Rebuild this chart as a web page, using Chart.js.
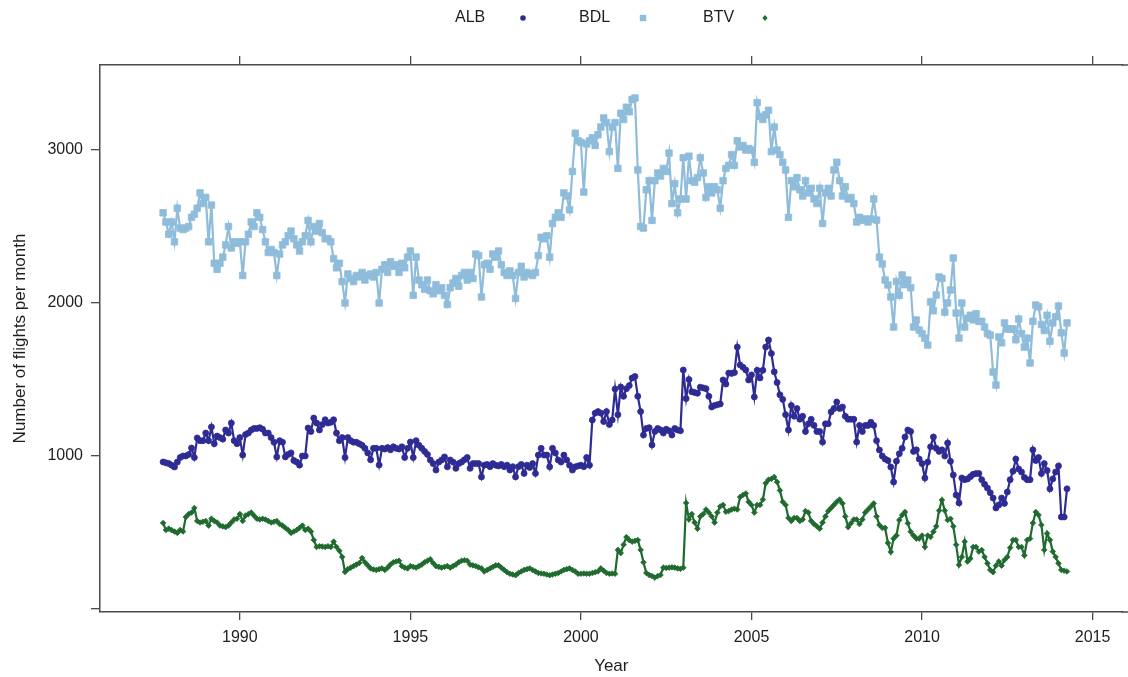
<!DOCTYPE html>
<html>
<head>
<meta charset="utf-8">
<script src="https://cdn.jsdelivr.net/npm/chart.js@4.4.0/dist/chart.umd.min.js"></script>
<style>
  html, body { margin: 0; padding: 0; background: #fff; }
  #wrap { width: 1128px; height: 677px; }
</style>
</head>
<body>
<div id="wrap"><canvas id="chart" width="1128" height="677"></canvas></div>
<script>
// monthly series start in October 1987
const startYear = 1987;
const startMonth = 10;

const seriesNames = ["ALB", "BDL", "BTV"];
const yearTicks = [1990, 1995, 2000, 2005, 2010, 2015];
const flightTicks = [0, 1000, 2000, 3000];

const albFlights = [
  961, 955, 950,                                                      // 1987
  940, 928, 960, 990, 1000, 1000, 1010, 1052, 990, 1118, 1100, 1100,  // 1988
  1150, 1100, 1190, 1080, 1130, 1120, 1110, 1170, 1150, 1215, 1100, 1080,
  1120, 1006, 1140, 1150, 1170, 1180, 1180, 1185, 1175, 1150, 1150, 1120,
  1090, 994, 1100, 1090, 994, 1010, 1020, 970, 960, 940, 1000, 1000,
  1183, 1160, 1248, 1215, 1170, 1205, 1237, 1215, 1220, 1237, 1150, 1100,
  1120, 990, 1120, 1100, 1090, 1090, 1080, 1070, 1050, 1020, 975, 1050,
  1050, 941, 1050, 1045, 1055, 1040, 1060, 1050, 1045, 1060, 990, 1050,
  1091, 990, 1100, 1070, 1050, 1030, 1010, 974, 950, 908, 960, 974,
  994, 929, 974, 960, 919, 950, 960, 975, 990, 919, 950, 950,
  950, 863, 940, 945, 930, 950, 940, 935, 945, 930, 940, 908,
  930, 863, 930, 945, 886, 940, 925, 950, 886, 1006, 1050, 1006,
  1006, 929, 1050, 1020, 974, 960, 1006, 974, 940, 908, 929, 935,
  940, 930, 990, 940, 1235, 1280, 1290, 1280, 1225, 1290, 1205, 1235, // 2000
  1438, 1270, 1451, 1390, 1440, 1460, 1510, 1520, 1390, 1290, 1137, 1180,
  1185, 1072, 1160, 1180, 1170, 1150, 1175, 1165, 1137, 1180, 1170, 1165,
  1562, 1375, 1500, 1420, 1415, 1410, 1450, 1445, 1440, 1390, 1320, 1330,
  1335, 1340, 1497, 1470, 1542, 1540, 1545, 1712, 1595, 1580, 1562, 1497,
  1530, 1386, 1560, 1510, 1560, 1712, 1758, 1670, 1550, 1480, 1400, 1370,
  1270, 1170, 1330, 1260, 1310, 1240, 1260, 1160, 1210, 1240, 1200, 1160,
  1160, 1091, 1210, 1210, 1288, 1310, 1353, 1310, 1320, 1260, 1240, 1240,
  1240, 1091, 1200, 1160, 1200, 1200, 1220, 1200, 1100, 1039, 1000, 980,
  970, 928, 830, 966, 1015, 1050, 1124, 1170, 1160, 1030, 1040, 980,
  950, 856, 960, 1060, 1124, 1050, 1030, 1040, 1000, 1085, 965, 876,  // 2010
  745, 693, 856, 845, 850, 865, 880, 885, 885, 845, 815, 790,
  760, 725, 660, 680, 725, 690, 765, 845, 900, 980, 915, 895,
  860, 845, 845, 1040, 970, 990, 885, 950, 905, 785, 850, 895,
  935, 601, 601, 785                                                  // 2014
];

const bdlFlights = [
  2590, 2530, 2450,                                                   // 1987
  2530, 2400, 2620, 2490, 2480, 2490, 2500, 2560, 2580, 2620, 2720, 2650,
  2690, 2400, 2640, 2260, 2220, 2260, 2300, 2380, 2500, 2360, 2400, 2390,
  2400, 2180, 2400, 2450, 2530, 2500, 2590, 2560, 2480, 2400, 2330, 2350,
  2330, 2180, 2320, 2380, 2400, 2440, 2470, 2420, 2380, 2340, 2400, 2440,
  2540, 2400, 2500, 2470, 2520, 2460, 2420, 2420, 2400, 2290, 2230, 2260,
  2140, 2000, 2190, 2160, 2140, 2180, 2170, 2200, 2150, 2180, 2190, 2170,
  2200, 2000, 2220, 2250, 2200, 2270, 2240, 2250, 2200, 2260, 2230, 2300,
  2340, 2050, 2300, 2150, 2120, 2090, 2150, 2080, 2060, 2120, 2080, 2100,
  2050, 1990, 2100, 2130, 2160, 2110, 2180, 2200, 2150, 2200, 2160, 2320,
  2310, 2040, 2250, 2260, 2220, 2320, 2300, 2340, 2250, 2200, 2180, 2210,
  2180, 2030, 2200, 2240, 2170, 2200, 2190, 2180, 2200, 2310, 2430, 2420,
  2440, 2300, 2520, 2560, 2590, 2560, 2720, 2700, 2610, 2860, 3110, 3060,
  3050, 2725, 3040, 3060, 3080, 3030, 3100, 3150, 3210, 3180, 2990, 3150, // 2000
  3180, 2880, 3240, 3200, 3280, 3250, 3330, 3340, 2870, 2500, 2490, 2740,
  2800, 2540, 2800, 2850, 2830, 2880, 2860, 2980, 2650, 2780, 2590, 2680,
  2950, 2680, 2960, 2800, 2790, 2820, 2950, 2850, 2690, 2760, 2720, 2760,
  2740, 2620, 2800, 2880, 2900, 2970, 2900, 3060, 3020, 3030, 3000, 3010,
  3000, 2920, 3310, 3220, 3200, 3230, 3260, 2990, 3150, 3000, 2970, 2920,
  2870, 2560, 2800, 2760, 2820, 2740, 2700, 2800, 2720, 2750, 2680, 2650,
  2750, 2520, 2720, 2750, 2700, 2870, 2920, 2800, 2700, 2760, 2680, 2690,
  2650, 2530, 2560, 2540, 2550, 2530, 2550, 2680, 2542, 2300, 2255, 2150,
  2118, 2040, 1843, 2140, 2050, 2183, 2120, 2150, 2100, 1843, 1889, 1823,
  1800, 1770, 1725, 2007, 1950, 2052, 2170, 2160, 1940, 2000, 2085, 2294, // 2010
  1935, 1771, 2000, 1843, 1900, 1920, 1890, 1930, 1880, 1880, 1843, 1800,
  1790, 1549, 1464, 1778, 1740, 1870, 1830, 1830, 1830, 1760, 1895, 1800,
  1712, 1770, 1608, 1880, 1987, 1975, 1860, 1820, 1920, 1750, 1870, 1910,
  1980, 1805, 1673, 1870                                              // 2014
];

const btvFlights = [
  562, 516, 525,                                                      // 1987
  515, 506, 497, 516, 506, 601, 620, 630, 660, 575, 565, 570,
  575, 545, 590, 575, 565, 545, 540, 535, 545, 565, 585, 590,
  620, 575, 610, 620, 630, 610, 590, 585, 590, 585, 575, 565,
  570, 575, 555, 545, 530, 516, 497, 506, 516, 530, 545, 516,
  525, 506, 451, 405, 410, 408, 405, 410, 405, 440, 405, 380,
  340, 242, 260, 270, 280, 290, 300, 333, 305, 285, 265, 258,
  255, 260, 265, 255, 270, 290, 305, 310, 315, 280, 270, 265,
  280, 275, 270, 280, 290, 305, 315, 325, 300, 280, 275, 270,
  275, 280, 270, 280, 290, 305, 315, 318, 315, 290, 285, 280,
  272, 265, 245, 255, 265, 275, 285, 285, 270, 255, 240, 230,
  225, 220, 235, 245, 255, 260, 265, 255, 245, 235, 232, 230,
  225, 220, 225, 230, 235, 245, 255, 260, 265, 255, 245, 230,
  230, 232, 230, 230, 235, 240, 245, 265, 250, 235, 230, 232,         // 2000
  230, 386, 365, 420, 470, 450, 440, 445, 450, 386, 305, 235,
  222, 215, 205, 215, 222, 270, 268, 270, 272, 270, 265, 262,
  270, 693, 585, 620, 565, 525, 605, 620, 650, 630, 605, 565,
  630, 670, 680, 635, 640, 650, 655, 650, 732, 745, 755, 700,
  680, 630, 680, 680, 715, 822, 845, 850, 863, 830, 775, 700,
  680, 595, 575, 595, 595, 575, 585, 640, 630, 575, 555, 540,
  525, 565, 605, 640, 660, 680, 700, 715, 690, 605, 535, 560,
  585, 585, 555, 585, 630, 650, 670, 690, 605, 549, 530, 530,
  431, 373, 460, 480, 581, 614, 634, 560, 505, 480, 460, 460,
  480, 405, 480, 470, 505, 540, 643, 712, 643, 581, 590, 540,         // 2010
  420, 288, 340, 440, 310, 330, 405, 405, 375, 385, 340, 298,
  255, 240, 283, 310, 283, 320, 340, 400, 451, 451, 405, 405,
  350, 451, 460, 562, 634, 614, 549, 386, 494, 451, 375, 340,
  298, 255, 250, 245                                                  // 2014
];

// decimal year of each month
const monthTimes = albFlights.map((_, i) => startYear + (startMonth - 1 + i) / 12);

const axisColor = "#4a4a4a";
const textColor = "#1e1e1e";
const fontFamily = '"Liberation Sans", Arial, Helvetica, sans-serif';

const styles = {
  ALB: { color: "#2e2b94", pointStyle: "circle", radius: 3 },
  BDL: { color: "#8ebcda", pointStyle: "rect", radius: 4.6 },
  BTV: { color: "#1f6a2e", pointStyle: "rectRot", radius: 2.8 },
};

function toPoints(values) {
  return values.map((v, i) => ({ x: monthTimes[i], y: v }));
}

function makeDataset(name, values) {
  const s = styles[name];
  return {
    label: name,
    data: toPoints(values),
    borderColor: s.color,
    backgroundColor: s.color,
    borderWidth: 2.2,
    tension: 0,
    pointStyle: s.pointStyle,
    pointRadius: s.radius,
    pointBorderWidth: 0.8,
    pointBackgroundColor: s.color,
    pointBorderColor: s.color,
  };
}

// lattice-style key above the panel: label first, symbol after
const topKey = {
  id: "topKey",
  afterDraw(chart) {
    const ctx = chart.ctx;
    const spots = [
      { text: 455, mark: 523 },
      { text: 579, mark: 643 },
      { text: 703, mark: 765 },
    ];
    const y = 18;
    ctx.save();
    ctx.font = "16px " + fontFamily;
    ctx.textBaseline = "middle";
    ctx.textAlign = "left";
    seriesNames.forEach((name, i) => {
      const s = styles[name];
      ctx.fillStyle = textColor;
      ctx.fillText(name, spots[i].text, y);
      ctx.fillStyle = s.color;
      ctx.beginPath();
      const x = spots[i].mark;
      if (s.pointStyle === "circle") {
        ctx.arc(x, y, 2.8, 0, Math.PI * 2);
      } else if (s.pointStyle === "rect") {
        ctx.rect(x - 3.2, y - 3.2, 6.4, 6.4);
      } else {
        ctx.moveTo(x, y - 3);
        ctx.lineTo(x + 2.6, y);
        ctx.lineTo(x, y + 3);
        ctx.lineTo(x - 2.6, y);
        ctx.closePath();
      }
      ctx.fill();
    });

    // the panel frame runs off the right edge of the picture
    const area = chart.chartArea;
    ctx.strokeStyle = axisColor;
    ctx.lineWidth = 1.5;
    ctx.beginPath();
    ctx.moveTo(area.right - 1, area.top);
    ctx.lineTo(chart.width, area.top);
    ctx.moveTo(area.right - 1, area.bottom);
    ctx.lineTo(chart.width, area.bottom);
    ctx.stroke();
    ctx.restore();
  },
};

const xMin = 1985.9;
const xMax = 2015.88;

const sharedGrid = {
  drawOnChartArea: false,
  drawTicks: true,
  color: axisColor,
  lineWidth: 1.3,
};

function fixHorizontal(scale) {
  scale.height = 65;
}

new Chart(document.getElementById("chart"), {
  type: "line",
  data: {
    datasets: [
      makeDataset("ALB", albFlights),
      makeDataset("BDL", bdlFlights),
      makeDataset("BTV", btvFlights),
    ],
  },
  options: {
    responsive: false,
    animation: false,
    layout: { padding: 0 },
    plugins: {
      legend: { display: false },
      tooltip: { enabled: false },
    },
    scales: {
      x: {
        type: "linear",
        position: "bottom",
        min: xMin,
        max: xMax,
        afterBuildTicks: (scale) => {
          scale.ticks = yearTicks.map((v) => ({ value: v }));
        },
        afterFit: fixHorizontal,
        grid: { ...sharedGrid, tickLength: 8 },
        border: { display: true, color: axisColor, width: 1.5 },
        ticks: {
          autoSkip: false,
          maxRotation: 0,
          padding: 8,
          color: textColor,
          font: { family: fontFamily, size: 16 },
          callback: (v) => String(v),
        },
        title: {
          display: true,
          text: "Year",
          color: textColor,
          font: { family: fontFamily, size: 17 },
          padding: { top: 0, bottom: 0 },
        },
      },
      xTop: {
        type: "linear",
        position: "top",
        min: xMin,
        max: xMax,
        afterBuildTicks: (scale) => {
          scale.ticks = yearTicks.map((v) => ({ value: v }));
        },
        afterFit: fixHorizontal,
        grid: { ...sharedGrid, tickLength: 9 },
        border: { display: true, color: axisColor, width: 1.5 },
        ticks: { display: false },
      },
      y: {
        type: "linear",
        position: "left",
        min: -20,
        max: 3556,
        afterBuildTicks: (scale) => {
          scale.ticks = flightTicks.map((v) => ({ value: v }));
        },
        afterFit: (scale) => {
          scale.width = 100;
        },
        grid: { ...sharedGrid, tickLength: 9 },
        border: { display: true, color: axisColor, width: 1.5 },
        ticks: {
          autoSkip: false,
          padding: 8,
          color: textColor,
          font: { family: fontFamily, size: 16 },
          callback: (v) => (v === 0 ? "" : String(v)),
        },
        title: {
          display: true,
          text: "Number of flights per month",
          color: textColor,
          font: { family: fontFamily, size: 17 },
          padding: { top: 10, bottom: 0 },
        },
      },
    },
  },
  plugins: [topKey],
});
</script>
</body>
</html>
